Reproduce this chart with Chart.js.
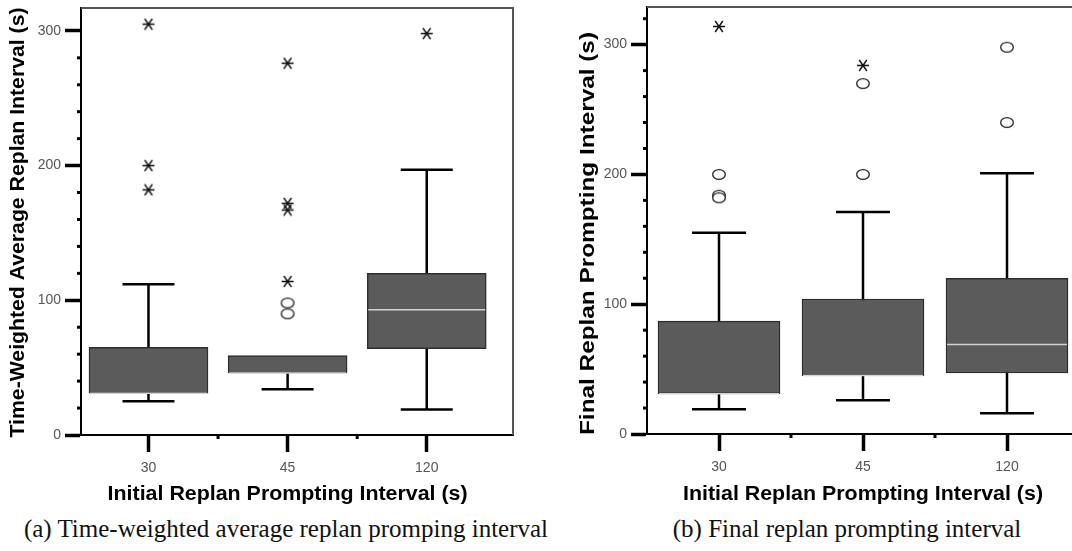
<!DOCTYPE html>
<html lang="en">
<head>
<meta charset="UTF-8">
<title>Replan prompting interval box plots</title>
<script src="https://cdn.jsdelivr.net/npm/chart.js"></script>
<style>
  body { margin: 0; background: #fff; width: 1072px; height: 551px; overflow: hidden; position: relative; }
  canvas { position: absolute; top: 0; }
  #chartA { left: 0; }
  #chartB { left: 560px; }
  .caption { position: absolute; top: 515px; font-family: "Liberation Serif", "Times New Roman", serif; font-size: 25px; color: #111; white-space: nowrap; transform: translateX(-50%); }
</style>
</head>
<body>
<canvas id="chartA" width="540" height="515"></canvas>
<canvas id="chartB" width="540" height="515"></canvas>
<div class="caption" style="left:286px">(a) Time-weighted average replan promping interval</div>
<div class="caption" style="left:847px">(b) Final replan prompting interval</div>
<script>
const categories = ['30', '45', '120'];
const yTicks = [0, 100, 200, 300];
const xTitle = 'Initial Replan Prompting Interval (s)';

// (a) time-weighted average replan interval
const avgLow = [25, 34, 19];
const avgQ1 = [31, 46, 64];
const avgMedian = [31, 46, 93];
const avgQ3 = [65, 59, 120];
const avgHigh = [112, 59, 197];
const avgCircles = [[], [98, 90], []];
const avgStars = [[305, 200, 182], [276, 172, 167, 114], [298]];

// (b) final replan prompting interval
const finLow = [19, 26, 16];
const finQ1 = [31, 45, 47];
const finMedian = [31, 45, 69];
const finQ3 = [87, 104, 120];
const finHigh = [155, 171, 201];
const finCircles = [[200, 184, 182], [270, 200], [298, 240]];
const finStars = [[314], [284], []];

const tickFont = { family: '"Liberation Sans", Arial, sans-serif', size: 14 };
const titleFont = 'bold 20px "Liberation Sans", Arial, sans-serif';

function starImage() {
  const c = document.createElement('canvas');
  c.width = 14; c.height = 13;
  const g = c.getContext('2d');
  g.strokeStyle = '#111'; g.lineWidth = 1.4;
  g.beginPath();
  g.moveTo(1, 6.5); g.lineTo(13, 6.5);
  g.moveTo(3.2, 1); g.lineTo(10.8, 12);
  g.moveTo(10.8, 1); g.lineTo(3.2, 12);
  g.stroke();
  return c;
}

function ringImage() {
  const c = document.createElement('canvas');
  c.width = 16; c.height = 13;
  const g = c.getContext('2d');
  g.fillStyle = '#fff'; g.strokeStyle = '#222'; g.lineWidth = 1.3;
  g.beginPath();
  g.ellipse(8, 6.5, 6.3, 4.8, 0, 0, Math.PI * 2);
  g.fill(); g.stroke();
  return c;
}

const star = starImage();
const ring = ringImage();

// draw text centred at (cx, cy), stretched to a given width
function fittedText(ctx, text, cx, cy, width, angle) {
  ctx.save();
  ctx.translate(cx, cy);
  ctx.rotate(angle);
  ctx.scale(width / ctx.measureText(text).width, 1);
  ctx.fillText(text, 0, 0);
  ctx.restore();
}

const decor = {
  id: 'decor',
  afterDraw(chart, args, o) {
    const { ctx, chartArea: a, scales: { x, y } } = chart;
    ctx.save();
    // top and right frame
    ctx.strokeStyle = '#555';
    ctx.lineWidth = 2;
    ctx.beginPath();
    ctx.moveTo(a.left, a.top);
    ctx.lineTo(a.right, a.top);
    ctx.lineTo(a.right, a.bottom);
    ctx.stroke();
    // minor ticks
    ctx.fillStyle = '#000';
    for (let v = 20; v <= y.max; v += 20) {
      if (v % 100) ctx.fillRect(a.left - 4, y.getPixelForValue(v) - 1.5, 3, 3);
    }
    [1.5, 2.5].forEach(v => ctx.fillRect(x.getPixelForValue(v) - 1.5, a.bottom + 1, 3, 3));
    // axis titles
    ctx.fillStyle = '#000';
    ctx.font = titleFont;
    ctx.textAlign = 'center';
    ctx.textBaseline = 'middle';
    fittedText(ctx, o.xTitle, x.getPixelForValue(2), o.xTitleY, o.xTitleWidth, 0);
    fittedText(ctx, o.yTitle, o.yTitleX, (a.top + a.bottom) / 2 + o.yTitleShift, o.yTitleWidth, -Math.PI / 2);
    ctx.restore();
  }
};

function makeBoxChart(id, s) {
  const xs = categories.map((c, i) => i + 1);
  const whiskers = [];
  const caps = [];
  const outCircles = [];
  const outStars = [];
  xs.forEach((x, i) => {
    const top = s.high[i] > s.q3[i] ? s.high[i] : s.q1[i];
    whiskers.push({ x, y: s.low[i] }, { x, y: top }, { x, y: null });
    caps.push({ x, y: s.low[i] });
    if (s.high[i] > s.q3[i]) caps.push({ x, y: s.high[i] });
    s.circles[i].forEach(v => outCircles.push({ x, y: v }));
    s.stars[i].forEach(v => outStars.push({ x, y: v }));
  });

  return new Chart(document.getElementById(id), {
    type: 'bar',
    data: {
      datasets: [
        {
          type: 'line', data: whiskers, borderColor: '#000', borderWidth: 2.5,
          pointRadius: 0, spanGaps: false, order: 4
        },
        {
          type: 'bar', data: xs.map((x, i) => ({ x, y: [s.q1[i], s.q3[i]] })),
          backgroundColor: '#5b5b5b', borderColor: '#2e2e2e', borderWidth: 1.5,
          borderSkipped: false, barThickness: s.boxWidth, order: 3
        },
        {
          type: 'scatter', data: xs.map((x, i) => ({ x, y: s.median[i] })),
          pointStyle: 'line', pointRadius: s.boxWidth / 2 - 1,
          pointBorderColor: '#d2d2d2', pointBorderWidth: 1.5, order: 2
        },
        {
          type: 'scatter', data: caps,
          pointStyle: 'line', pointRadius: s.capRadius,
          pointBorderColor: '#000', pointBorderWidth: 2.5, order: 1
        },
        { type: 'scatter', data: outCircles, pointStyle: ring, pointRadius: 7, order: 0 },
        { type: 'scatter', data: outStars, pointStyle: star, pointRadius: 7, order: 0 }
      ]
    },
    options: {
      responsive: false,
      animation: false,
      events: [],
      layout: { autoPadding: false, padding: { top: s.padTop, right: s.padRight, left: 0, bottom: 0 } },
      plugins: {
        legend: { display: false },
        tooltip: { enabled: false },
        decor: {
          xTitle, xTitleY: 494, xTitleWidth: 360,
          yTitle: s.yTitle, yTitleX: s.yTitleX, yTitleShift: s.yTitleShift, yTitleWidth: s.yTitleWidth
        }
      },
      scales: {
        x: {
          type: 'linear', min: s.xMin, max: s.xMax, offset: false,
          afterBuildTicks: sc => { sc.ticks = xs.map(v => ({ value: v })); },
          afterFit: sc => { sc.height = s.xAxisHeight; sc.paddingLeft = 0; sc.paddingRight = 0; },
          grid: { offset: false, drawOnChartArea: false, tickLength: 17, tickWidth: 3.5, tickColor: '#000' },
          border: { color: '#000', width: 2 },
          ticks: { callback: v => categories[v - 1], color: '#555', font: tickFont, padding: 8, maxRotation: 0 }
        },
        y: {
          min: 0, max: s.yMax,
          afterBuildTicks: sc => { sc.ticks = yTicks.map(v => ({ value: v })); },
          afterFit: sc => { sc.width = s.yAxisWidth; sc.paddingTop = 0; sc.paddingBottom = 0; },
          grid: { drawOnChartArea: false, tickLength: 16, tickWidth: 3.5, tickColor: '#000' },
          border: { color: '#000', width: 2 },
          ticks: { color: '#555', font: tickFont, padding: 4 }
        }
      }
    },
    plugins: [decor]
  });
}

makeBoxChart('chartA', {
  low: avgLow, q1: avgQ1, median: avgMedian, q3: avgQ3, high: avgHigh,
  circles: avgCircles, stars: avgStars,
  boxWidth: 119, capRadius: 26,
  xMin: 0.515, xMax: 3.62, yMax: 317,
  padTop: 8, padRight: 27, xAxisHeight: 80, yAxisWidth: 81,
  yTitle: 'Time-Weighted Average Replan Interval (s)', yTitleX: 18, yTitleShift: 1, yTitleWidth: 430
});

makeBoxChart('chartB', {
  low: finLow, q1: finQ1, median: finMedian, q3: finQ3, high: finHigh,
  circles: finCircles, stars: finStars,
  boxWidth: 122, capRadius: 27,
  xMin: 0.5, xMax: 3.5, yMax: 329,
  padTop: 7, padRight: 21, xAxisHeight: 81, yAxisWidth: 87,
  yTitle: 'Final Replan Prompting Interval (s)', yTitleX: 28, yTitleShift: 13, yTitleWidth: 403
});
</script>
</body>
</html>
